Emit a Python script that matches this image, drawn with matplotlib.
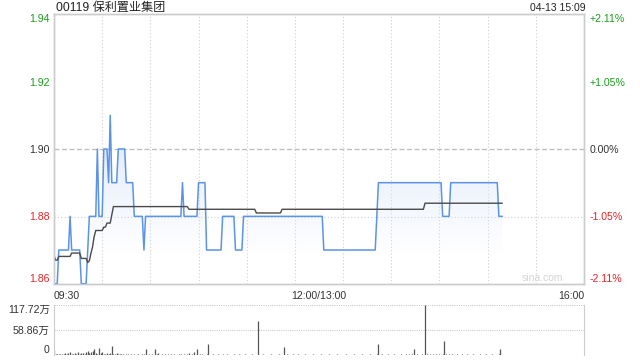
import numpy as np
import matplotlib
matplotlib.use('Agg')
import matplotlib.pyplot as plt

plt.rcParams['font.family'] = ['Liberation Sans', 'Noto Sans CJK SC', 'DejaVu Sans']

title = '00119 保利置业集团'
stamp = '04-13 15:09'
prev_close = 1.90
pct_max = 0.0211
price_labels = ['1.86', '1.88', '1.90', '1.92', '1.94']
pct_labels = ['-2.11%', '-1.05%', '0.00%', '+1.05%', '+2.11%']
time_labels = ['09:30', '12:00/13:00', '16:00']
vol_labels = ['0', '58.86万', '117.72万']
vol_max = 117.72

# (price, minutes held)
price_runs = [
    (1.86, 3), (1.87, 7), (1.88, 1), (1.87, 6), (1.86, 4), (1.87, 1),
    (1.88, 5), (1.90, 1), (1.88, 3), (1.90, 3), (1.89, 1), (1.91, 1),
    (1.89, 4), (1.90, 5), (1.89, 5), (1.88, 6), (1.87, 1), (1.88, 23),
    (1.89, 1), (1.88, 9), (1.89, 5), (1.87, 10), (1.88, 8), (1.87, 5),
    (1.88, 50), (1.87, 33), (1.88, 1), (1.89, 40), (1.88, 5), (1.89, 30),
    (1.88, 3),
]

# average price line
avg_runs = [
    (1.8684, 1), (1.8670, 2), (1.8681, 8), (1.8691, 6), (1.8675, 4),
    (1.8663, 1), (1.8668, 1), (1.8690, 1), (1.8709, 1), (1.8740, 1),
    (1.8758, 5), (1.8768, 2), (1.8780, 3), (1.8805, 1), (1.8829, 47),
    (1.8821, 42), (1.8810, 16), (1.8821, 89), (1.8839, 49),
]

# volume per minute, in 万
volume = [
    12, 2, 3, 1.5, 2, 3, 2, 4, 2, 5, 6, 2, 3, 4, 2, 6, 3, 4, 5, 3,
    7, 9, 4, 8, 10, 14, 5, 3, 17, 4, 6, 3, 2, 5, 3, 4, 22, 3, 2, 5,
    3, 2, 1.5, 2, 1, 2, 1.5, 1, 2, 1, 1.5, 1, 2, 1, 1, 1.5, 2, 15, 1, 2,
    1, 1.5, 1, 14, 2, 4, 1, 1.5, 1, 2, 1, 3, 1, 1.5, 1, 2, 1, 1, 3, 1.5,
    1, 2, 1, 1.5, 4, 1, 2, 6, 1, 15, 1, 1.5, 2, 1, 1, 1.5, 26, 1, 1, 1.5,
    1, 1, 1.5, 1, 1, 2, 1, 1, 1.5, 1, 1, 1, 1.5, 1, 1, 2, 1, 1, 1, 1.5,
    1, 1, 1, 1.5, 1, 1, 1, 80, 1, 1, 1.5, 1, 1, 1, 1, 1.5, 1, 1, 1, 1,
    1.5, 1, 1, 18, 1, 1.5, 1, 1, 1, 1.5, 1, 1, 3, 1, 1, 1, 1.5, 1, 1, 1,
    1, 1.5, 1, 1, 1, 1, 1.5, 1, 1, 1, 1, 1.5, 1, 1, 1, 1, 1.5, 1, 1, 1,
    1, 1, 1.5, 1, 1, 1, 1, 1.5, 1, 1, 1, 1, 1.5, 1, 1, 1, 1, 1.5, 1, 1,
    1, 2, 27, 1, 1.5, 1, 1, 1, 1.5, 1, 1, 1, 1.5, 1, 1, 1, 1.5, 1, 1, 2,
    1, 1.5, 1, 2, 15, 1, 1.5, 1, 1, 2, 1, 117.72, 1.5, 1, 2, 1, 1.5, 1, 2, 1,
    1.5, 1, 2, 33, 1.5, 1, 2, 1, 1.5, 1, 1, 1.5, 1, 1, 1.5, 1, 1, 1.5, 1, 1,
    1, 1.5, 1, 1, 1, 1.5, 1, 1, 1, 1.5, 1, 1, 1, 1.5, 1, 1, 1, 1.5, 13, 1,
]

green = '#1a9e1a'
red = '#ee2222'
dark = '#333333'
label_colors = [red, red, dark, green, green]

prices = np.repeat([p for p, n in price_runs], [n for p, n in price_runs])
avg = np.repeat([p for p, n in avg_runs], [n for p, n in avg_runs])
mins = np.arange(len(prices))

lo = prev_close * (1 - pct_max)
hi = prev_close * (1 + pct_max)
ticks = np.linspace(lo, hi, 5)

fig = plt.figure(figsize=(6.4, 3.6), dpi=100)
ax = fig.add_axes([54 / 640, 1 - 284 / 360, 530 / 640, 270 / 360])
axv = fig.add_axes([54 / 640, 1 - 355 / 360, 530 / 640, 50 / 360])

# main price panel
ax.set_xlim(0, 330)
ax.set_ylim(lo, hi)
for x in range(30, 330, 30):
    ax.axvline(x, color='#d0d0d0', lw=0.8, ls=(0, (1, 2)), zorder=1)
ax.axhline(ticks[1], color='#d0d0d0', lw=0.8, ls=(0, (1, 2)), zorder=1)
ax.axhline(prev_close, color='#bbbbbb', lw=0.9, ls=(0, (4, 2)), zorder=1)

poly = ax.fill_between(mins, prices, lo, color='none', lw=0)
grad = np.linspace(0, 1, 200)
rgba = np.zeros((200, 1, 4))
rgba[:, 0, 0] = 0.85
rgba[:, 0, 1] = 0.90
rgba[:, 0, 2] = 0.99
rgba[:, 0, 3] = np.clip((grad - 0.15) / 0.85, 0, 1) * 0.75
img = ax.imshow(rgba, extent=[0, mins[-1], 1.862, 1.905], origin='lower',
                aspect='auto', zorder=2, interpolation='bilinear')
img.set_clip_path(poly.get_paths()[0], transform=ax.transData)
ax.set_xlim(0, 330)
ax.set_ylim(lo, hi)

ax.plot(mins, prices, color='#5b93e8', lw=1.1, zorder=3)
ax.plot(mins, avg, color='#4a4a4a', lw=1.0, zorder=4)

ax.set_yticks(ticks)
ax.set_yticklabels(price_labels)
for lab, c in zip(ax.get_yticklabels(), label_colors):
    lab.set_color(c)
ax.get_yticklabels()[0].set_va('bottom')
ax.get_yticklabels()[-1].set_va('top')
ax.tick_params(axis='y', length=0, pad=3, labelsize=7.6)

axr = ax.twinx()
axr.set_ylim(lo, hi)
axr.set_yticks(ticks)
axr.set_yticklabels(pct_labels)
for lab, c in zip(axr.get_yticklabels(), label_colors):
    lab.set_color(c)
axr.get_yticklabels()[0].set_va('bottom')
axr.get_yticklabels()[-1].set_va('top')
axr.tick_params(axis='y', length=0, pad=4, labelsize=7.6)

ax.set_xticks([])
for a in (ax, axr):
    for s in a.spines.values():
        s.set_color('#cccccc')
        s.set_linewidth(1)

ax.text(0, -0.025, time_labels[0], transform=ax.transAxes, ha='left', va='top',
        fontsize=7.6, color=dark)
ax.text(0.5, -0.025, time_labels[1], transform=ax.transAxes, ha='center', va='top',
        fontsize=7.6, color=dark)
ax.text(1, -0.025, time_labels[2], transform=ax.transAxes, ha='right', va='top',
        fontsize=7.6, color=dark)
ax.text(0.96, 0.022, 'sina.com', transform=ax.transAxes, ha='right', va='center',
        fontsize=7.5, color='#d4d4d4')

fig.text(56 / 640, 1 - 8 / 360, title, ha='left', va='center', fontsize=8.7, color='#222222')
fig.text(586 / 640, 1 - 8 / 360, stamp, ha='right', va='center', fontsize=7.5, color='#222222')

# volume panel
axv.set_xlim(0, 330)
axv.set_ylim(0, vol_max)
axv.axhline(vol_max / 2, color='#cccccc', lw=0.8, ls=(0, (1, 1)))
axv.axhline(vol_max, color='#cccccc', lw=0.8, ls=(0, (1, 1)))
axv.vlines(mins, 0, volume, color='#555555', lw=0.9)
axv.set_xticks([])
axv.set_yticks([0, vol_max / 2, vol_max])
axv.set_yticklabels(vol_labels)
axv.get_yticklabels()[0].set_va('bottom')
axv.get_yticklabels()[-1].set_va('top')
axv.tick_params(axis='y', length=0, pad=3, labelsize=7.6, labelcolor=dark)
for name, s in axv.spines.items():
    s.set_color('#cccccc')
    s.set_visible(name in ('left', 'right'))

fig.savefig('out.png', dpi=100)
